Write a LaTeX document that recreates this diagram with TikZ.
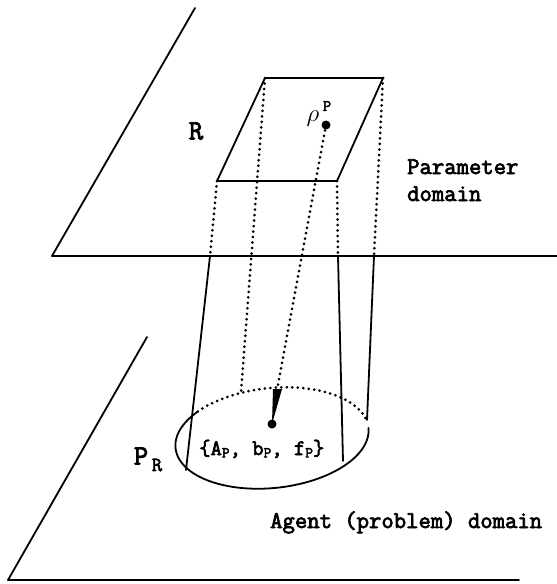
\documentclass[tikz,border=0pt]{standalone}
\usepackage{fontspec}
\newfontfamily\tw{Latin Modern Mono}[FakeBold=3]
\newcommand{\mysub}[1]{\raisebox{-0.25ex}{\fontsize{15}{15}\selectfont #1}}
\begin{document}
\begin{tikzpicture}[x=1pt,y=-1pt,
  ln/.style={line width=1.8pt, line cap=round, line join=round},
  dotln/.style={line width=3pt, dash pattern=on 0pt off 5.5pt, line cap=round},
  lbl/.style={font=\tw\fontsize{24}{27}\selectfont, inner sep=0pt}]
\useasboundingbox (0,0) rectangle (557,584);
% planes
\coordinate (u1) at (195,8); \coordinate (u2) at (52,256); \coordinate (u3) at (557,256);
\draw[ln] (u1)--(u2)--(u3);
\coordinate (l1) at (147,337); \coordinate (l2) at (8,580); \coordinate (l3) at (519,580);
\draw[ln] (l1)--(l2)--(l3);
% parallelogram R
\coordinate (tl) at (265,78); \coordinate (tr) at (383,78);
\coordinate (br) at (337,181); \coordinate (bl) at (217,181);
\draw[ln] (tl)--(tr)--(br)--(bl)--cycle;
% crossing points on the horizontal line
\coordinate (c1) at (210,256); \coordinate (c4) at (338,256); \coordinate (c5) at (374,256);
% ends at the ellipse
\coordinate (e1) at (241,392); \coordinate (e1b) at (186,470);
\coordinate (e4) at (343,461); \coordinate (e5) at (367,420);
\coordinate (rhodot) at (326,125); \coordinate (w) at (277,390);
\coordinate (pdot) at (272,424);
% dotted projections
\draw[dotln] (tl)--(e1);
\draw[dotln] (tr)--(c5);
\draw[dotln] (bl)--(c1);
\draw[dotln] (br)--(c4);
\draw[dotln] (rhodot)--(w);
% solid parts
\draw[ln] (c1)--(e1b);
\draw[ln] (c4)--(e4);
\draw[ln] (c5)--(e5);
% ellipse
\draw[ln] plot[domain=0:223, samples=90, smooth] ({272+97*cos(\x)*0.9945+50*sin(\x)*0.1045},{438-97*cos(\x)*0.1045+50*sin(\x)*0.9945});
\draw[dotln] plot[domain=-137:-8, samples=60, smooth] ({272+97*cos(\x)*0.9945+50*sin(\x)*0.1045},{438-97*cos(\x)*0.1045+50*sin(\x)*0.9945});
% wedge and dots
\fill (273,389)--(282,389)--(pdot)--cycle;
\fill (pdot) circle (4.5);
\fill (rhodot) circle (4.5);
% labels
\node[lbl, font=\tw\fontsize{28}{28}\selectfont] (rl) at (196,131) {R};
\node[lbl, font=\fontsize{26}{26}\selectfont] (rho) at (313,119) {$\rho$};
\node[lbl, font=\tw\fontsize{16}{16}\selectfont] (rhosup) at (327,106) {P};
\node[lbl, anchor=base west, align=left] (pd) at (407,201) {Parameter\\domain};
\node[lbl, font=\tw\fontsize{28}{28}\selectfont] (pr) at (141,456) {P};
\node[lbl, font=\tw\fontsize{20}{20}\selectfont] (prs) at (157,465) {R};
\node[lbl, font=\tw\fontsize{22}{22}\selectfont, anchor=base west] (set) at (199,455) {\{A\mysub{P}, b\mysub{P}, f\mysub{P}\}};
\node[lbl, anchor=base west] (ad) at (270,528) {Agent (problem) domain};
\end{tikzpicture}
\end{document}
